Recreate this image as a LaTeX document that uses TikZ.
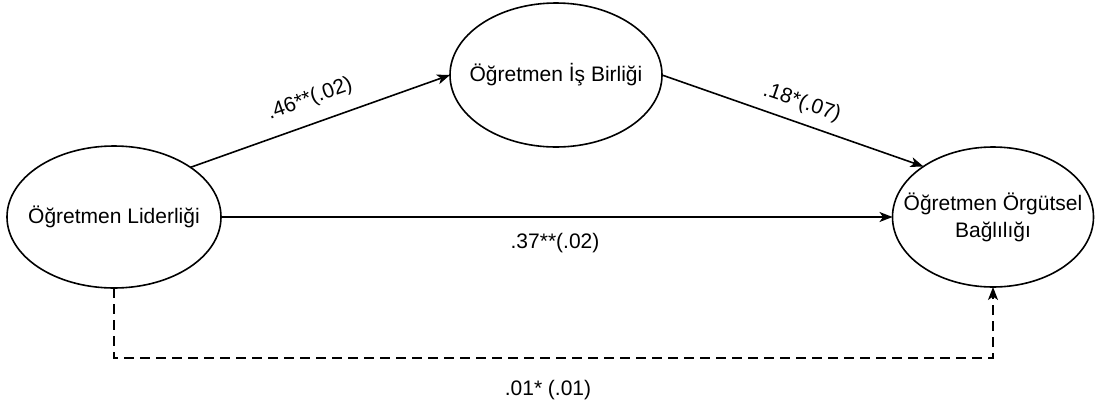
\documentclass[tikz,border=0pt]{standalone}
\usepackage{fontspec}
\setmainfont{Liberation Sans}
\usetikzlibrary{shapes.geometric,arrows.meta}
\begin{document}
\begin{tikzpicture}[x=1pt,y=-1pt,
  every node/.style={font=\fontsize{21}{27}\selectfont},
  latent/.style={ellipse,draw,line width=1.6pt,inner sep=0pt,outer sep=0pt},
  conn/.style={line width=1.6pt,-{Stealth[length=13pt,width=10pt,inset=3.5pt]}},
  lbl/.style={inner sep=0pt}]
\useasboundingbox (0,0) rectangle (1095,405);
\node[latent,minimum width=214pt,minimum height=142pt,label={[align=center]center:Öğretmen Liderliği}] (L) at (114,217) {};
\node[latent,minimum width=212pt,minimum height=144pt,label={[align=center]center:Öğretmen İş Birliği}] (T) at (556,75) {};
\node[latent,minimum width=201pt,minimum height=140pt,label={[align=center]center:Öğretmen Örgütsel\\Bağlılığı}] (R) at (993,217) {};
\coordinate (d1) at (114,358);
\coordinate (d2) at (993,358);
\draw[conn] (L.33) -- (T.west);
\draw[conn] (T.east) -- (R.144);
\draw[conn] (L.east) -- (R.west);
\draw[conn,dash pattern=on 10pt off 6pt] (L.south) -- (d1) -- (d2) -- (R.south);
\node[lbl,rotate=19.7] (l1) at (310,99) {.46**(.02)};
\node[lbl,rotate=-18.9] (l2) at (802,103) {.18*(.07)};
\node[lbl] (l3) at (555,243) {.37**(.02)};
\node[lbl] (l4) at (548,390) {.01* (.01)};
\end{tikzpicture}
\end{document}
